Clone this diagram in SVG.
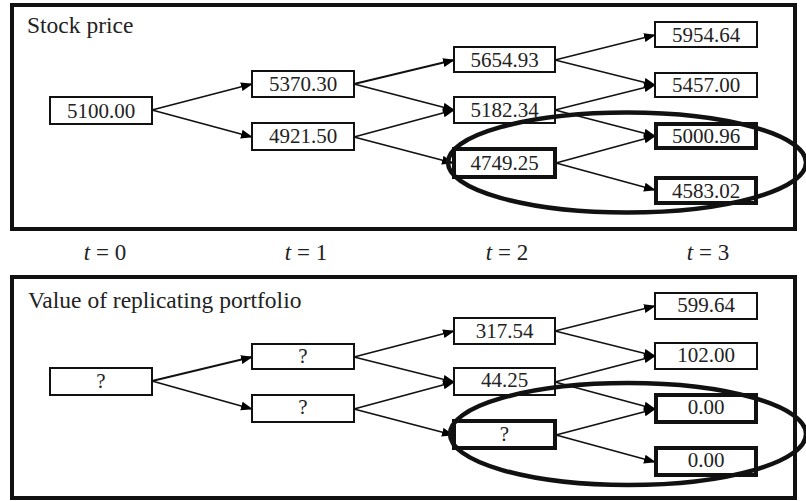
<svg xmlns="http://www.w3.org/2000/svg" width="806" height="501" viewBox="0 0 806 501">
<defs>
<marker id="ah" markerUnits="userSpaceOnUse" markerWidth="12" markerHeight="10" refX="11" refY="4.5" orient="auto">
<path d="M0,0 L12,4.5 L0,9 z" fill="#000"/>
</marker>
<style>
.frame{fill:none;stroke:#111;stroke-width:4}
.box{fill:#fff;stroke:#111;stroke-width:2}
.tbox{fill:#fff;stroke:#111;stroke-width:4}
.lbl{font-family:"Liberation Serif","Times New Roman",serif;font-size:21px;fill:#222;text-anchor:middle}
.title{font-family:"Liberation Serif","Times New Roman",serif;font-size:23.5px;fill:#222}
.tl{font-family:"Liberation Serif","Times New Roman",serif;font-size:23px;fill:#222;text-anchor:middle}
.arr{stroke:#111;stroke-width:1.8;fill:none;marker-end:url(#ah)}
.ell{fill:none;stroke:#111;stroke-width:4.5}
</style>
</defs>
<rect class="frame" x="12" y="5" width="783" height="224"/>
<rect class="frame" x="12" y="277" width="783" height="221"/>
<text class="title" x="27" y="33">Stock price</text>
<text class="title" x="28" y="308">Value of replicating portfolio</text>
<g id="time-labels">
<text class="tl" x="105" y="260"><tspan font-style="italic">t</tspan> = 0</text>
<text class="tl" x="306" y="260"><tspan font-style="italic">t</tspan> = 1</text>
<text class="tl" x="507" y="260"><tspan font-style="italic">t</tspan> = 2</text>
<text class="tl" x="708" y="260"><tspan font-style="italic">t</tspan> = 3</text>
</g>
<g id="connectors">
<path class="arr" d="M152,110 L252,84"/>
<path class="arr" d="M152,110 L252,137"/>
<path class="arr" d="M354,84 L454,60"/>
<path class="arr" d="M354,84 L454,110"/>
<path class="arr" d="M354,137 L454,110"/>
<path class="arr" d="M354,137 L453,163"/>
<path class="arr" d="M555,60 L655,35"/>
<path class="arr" d="M555,60 L655,85"/>
<path class="arr" d="M555,110 L655,85"/>
<path class="arr" d="M555,110 L655,136"/>
<path class="arr" d="M556,163 L655,136"/>
<path class="arr" d="M556,163 L655,190"/>
<path class="arr" d="M152,381 L252,357"/>
<path class="arr" d="M152,381 L252,409"/>
<path class="arr" d="M354,357 L454,331"/>
<path class="arr" d="M354,357 L454,382"/>
<path class="arr" d="M354,409 L454,382"/>
<path class="arr" d="M354,409 L453,435"/>
<path class="arr" d="M555,331 L655,306"/>
<path class="arr" d="M555,331 L655,356"/>
<path class="arr" d="M555,382 L655,356"/>
<path class="arr" d="M555,382 L655,409"/>
<path class="arr" d="M556,435 L655,409"/>
<path class="arr" d="M556,435 L655,462"/>
</g>
<g id="s0"><rect class="box" x="50" y="97" width="102" height="27"/><text class="lbl" x="101" y="117.5">5100.00</text></g>
<g id="s1u"><rect class="box" x="252" y="71" width="102" height="26"/><text class="lbl" x="303" y="91">5370.30</text></g>
<g id="s1d"><rect class="box" x="252" y="123" width="102" height="27"/><text class="lbl" x="303" y="143">4921.50</text></g>
<g id="s2uu"><rect class="box" x="454" y="47" width="101" height="25"/><text class="lbl" x="504.5" y="66.5">5654.93</text></g>
<g id="s2ud"><rect class="box" x="454" y="97" width="101" height="26"/><text class="lbl" x="504.5" y="117">5182.34</text></g>
<g id="s2dd"><rect class="tbox" x="454" y="149" width="101" height="28"/><text class="lbl" x="504.5" y="169.5">4749.25</text></g>
<g id="s3a"><rect class="box" x="655" y="22" width="102" height="25"/><text class="lbl" x="706" y="41.5">5954.64</text></g>
<g id="s3b"><rect class="box" x="655" y="73" width="102" height="24"/><text class="lbl" x="706" y="92">5457.00</text></g>
<g id="s3c"><rect class="tbox" x="656" y="124" width="100" height="24"/><text class="lbl" x="706" y="143">5000.96</text></g>
<g id="s3d"><rect class="tbox" x="656" y="178" width="100" height="25"/><text class="lbl" x="706" y="197.5">4583.02</text></g>
<g id="p0"><rect class="box" x="50" y="368" width="102" height="27"/><text class="lbl" x="101" y="388">?</text></g>
<g id="p1u"><rect class="box" x="252" y="344" width="102" height="25"/><text class="lbl" x="303" y="363">?</text></g>
<g id="p1d"><rect class="box" x="252" y="395" width="102" height="27"/><text class="lbl" x="303" y="414">?</text></g>
<g id="p2uu"><rect class="box" x="454" y="318" width="101" height="26"/><text class="lbl" x="504.5" y="337.5">317.54</text></g>
<g id="p2ud"><rect class="box" x="454" y="368" width="101" height="27"/><text class="lbl" x="504.5" y="387">44.25</text></g>
<g id="p2dd"><rect class="tbox" x="454" y="421" width="101" height="27"/><text class="lbl" x="504.5" y="441">?</text></g>
<g id="p3a"><rect class="box" x="655" y="293" width="102" height="26"/><text class="lbl" x="706" y="312">599.64</text></g>
<g id="p3b"><rect class="box" x="655" y="343" width="102" height="26"/><text class="lbl" x="706" y="362">102.00</text></g>
<g id="p3c"><rect class="tbox" x="656" y="395" width="100" height="27"/><text class="lbl" x="706" y="414">0.00</text></g>
<g id="p3d"><rect class="tbox" x="656" y="448" width="100" height="27"/><text class="lbl" x="706" y="467">0.00</text></g>
<ellipse class="ell" cx="627" cy="162.5" rx="179" ry="50"/>
<ellipse class="ell" cx="628" cy="434" rx="178" ry="51"/>
</svg>
